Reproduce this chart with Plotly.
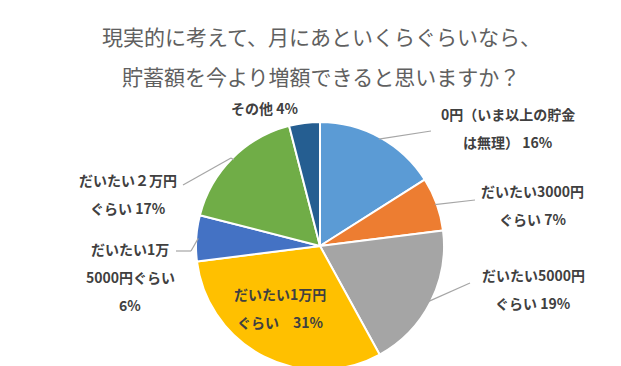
import math
import plotly.graph_objects as go

# ---- data ----
categories = ["0円（いま以上の貯金は無理）", "だいたい3000円ぐらい", "だいたい5000円ぐらい",
              "だいたい1万円ぐらい", "だいたい1万5000円ぐらい", "だいたい２万円ぐらい", "その他"]
values = [16, 7, 19, 31, 6, 17, 4]
label_lines = [
    ["0円（いま以上の貯金", "は無理） 16%"],
    ["だいたい3000円", "ぐらい 7%"],
    ["だいたい5000円", "ぐらい 19%"],
    ["だいたい1万円", "ぐらい　31%"],
    ["だいたい1万", "5000円ぐらい", "6%"],
    ["だいたい２万円", "ぐらい 17%"],
    ["その他 4%"],
]
colors = ["#5B9BD5", "#ED7D31", "#A5A5A5", "#FFC000", "#4472C4", "#70AD47", "#255E91"]
title_lines = ["現実的に考えて、月にあといくらぐらいなら、", "貯蓄額を今より増額できると思いますか？"]

# ---- layout geometry (pixels) ----
W, H = 621, 366
cx, cy, r = 312, 238, 124
# first-line centre of each label (px)
label_pos = [(500, 106), (524, 183), (525, 267), (272, 286), (122, 241), (120, 172), (256, 100)]
line_gap = 28
leader_end = [[(423, 123)], [(467, 192)], [(462, 275)], None, [(183, 243), (168, 243)],
              [(223, 150), (175, 177)], None]

def px(x):
    return x / W

def py(y):
    return 1 - y / H

fig = go.Figure(go.Pie(
    labels=categories, values=values, sort=False, direction="clockwise", rotation=0,
    marker=dict(colors=colors, line=dict(color="white", width=2)),
    textinfo="none", hoverinfo="label+percent", showlegend=False,
    domain=dict(x=[px(cx - r), px(cx + r)], y=[py(cy + r), py(cy - r)]),
))

font_lbl = dict(family="Noto Sans CJK JP", size=14, color="#404040")
shapes = []
annotations = []
total = sum(values)
cum = 0
for i, v in enumerate(values):
    mid = (cum + v / 2) / total * 2 * math.pi
    cum += v
    ex, ey = cx + (r - 2) * math.sin(mid), cy - (r - 2) * math.cos(mid)
    if leader_end[i]:
        pts = [(ex, ey)] + leader_end[i]
        for (x0, y0), (x1, y1) in zip(pts[:-1], pts[1:]):
            shapes.append(dict(type="line", xref="paper", yref="paper",
                               x0=px(x0), y0=py(y0), x1=px(x1), y1=py(y1),
                               line=dict(color="#A6A6A6", width=1.2)))
    lx, ly = label_pos[i]
    for k, t in enumerate(label_lines[i]):
        annotations.append(dict(text="<b>" + t + "</b>", x=px(lx), y=py(ly + k * line_gap),
                                xref="paper", yref="paper", showarrow=False,
                                xanchor="center", yanchor="middle", align="center",
                                font=font_lbl))

for t, yy in zip(title_lines, [28, 68]):
    annotations.append(dict(text=t, x=px(313), y=py(yy), xref="paper", yref="paper",
                            showarrow=False, xanchor="center", yanchor="middle",
                            font=dict(family="Noto Sans CJK JP", size=21, color="#606060")))

fig.update_layout(width=W, height=H, margin=dict(l=0, r=0, t=0, b=0),
                  paper_bgcolor="white", plot_bgcolor="white",
                  shapes=shapes, annotations=annotations)
fig.write_html("out.html")
